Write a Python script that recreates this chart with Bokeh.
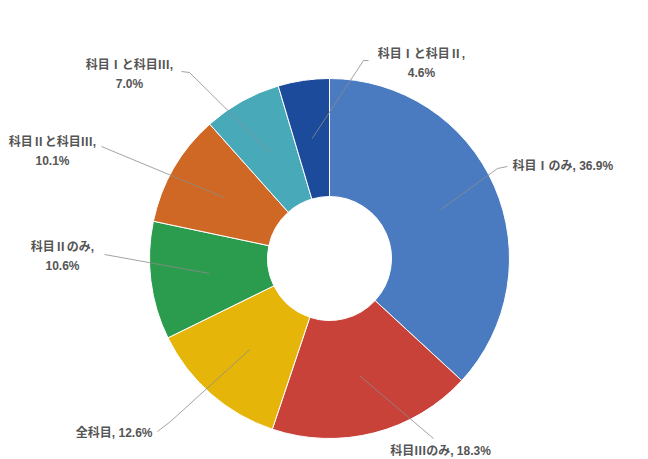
import math
from bokeh.plotting import figure
from bokeh.models import ColumnDataSource, Range1d
from bokeh.core.properties import value
from bokeh.embed import file_html
from bokeh.resources import INLINE

# ---- data ----
categories = ["科目Ⅰのみ", "科目Ⅲのみ", "全科目", "科目Ⅱのみ",
              "科目Ⅱと科目Ⅲ", "科目Ⅰと科目Ⅲ", "科目Ⅰと科目Ⅱ"]
shares = [36.9, 18.3, 12.6, 10.6, 10.1, 7.0, 4.6]
colors = ["#4A7BC0", "#C8423A", "#E6B50A", "#2B9B4E", "#D06825", "#48A9B9", "#1C4B9C"]

# ---- layout (screen pixels, y down) ----
W, H = 648, 459
CX, CY = 329, 258
R_OUT, R_IN = 180, 62
R_LEADER = 121
label_layout = [
    dict(x=512, y=165, align="left",   two=False, path=[(497, 168), (507, 166)]),
    dict(x=440, y=450, align="center", two=False, path=[(433, 438)]),
    dict(x=152, y=432, align="right",  two=False, path=[(170, 421), (157, 431)]),
    dict(x=62,  y=256, align="center", two=True,  path=[(104, 254)]),
    dict(x=52,  y=151, align="center", two=True,  path=[(101, 146)]),
    dict(x=129, y=74,  align="center", two=True,  path=[(189, 72), (181, 71)]),
    dict(x=421, y=63,  align="center", two=True,  path=[(363, 60), (368, 60)]),
]

def Y(y):
    return H - y

total = sum(shares)
starts, ends, mids = [], [], []
cum = 0.0
for s in shares:
    a0 = math.pi / 2 - 2 * math.pi * cum / total
    cum += s
    a1 = math.pi / 2 - 2 * math.pi * cum / total
    starts.append(a0)
    ends.append(a1)
    mids.append((a0 + a1) / 2)

p = figure(width=W, height=H, output_backend="svg", toolbar_location=None,
           x_range=Range1d(0, W), y_range=Range1d(0, H),
           x_axis_location=None, y_axis_location=None,
           min_border=0, outline_line_color=None, background_fill_color="white")
p.grid.visible = False

src = ColumnDataSource(dict(start=starts, end=ends, color=colors, cat=categories))
p.annular_wedge(x=CX, y=Y(CY), inner_radius=R_IN, outer_radius=R_OUT,
                start_angle="start", end_angle="end", direction="clock",
                fill_color="color", line_color="white", line_width=1, source=src)

xs, ys = [], []
for m, lay in zip(mids, label_layout):
    px = CX + R_LEADER * math.cos(m)
    py = Y(CY) + R_LEADER * math.sin(m)
    xs.append([px] + [q[0] for q in lay["path"]])
    ys.append([py] + [Y(q[1]) for q in lay["path"]])
p.multi_line(xs=xs, ys=ys, line_color="#8c8c8c", line_width=0.8)

for cat, s, lay in zip(categories, shares, label_layout):
    txt = f"{cat},\n{s:.1f}%" if lay["two"] else f"{cat}, {s:.1f}%"
    p.text(x=[lay["x"]], y=[Y(lay["y"])], text=[txt],
           text_font=value("Liberation Sans, Noto Sans CJK JP"),
           text_font_size="12px", text_font_style="bold",
           text_color="#555555", text_align=lay["align"],
           text_baseline="middle", text_line_height=1.35)

open("out.html", "w").write(file_html(p, INLINE))
